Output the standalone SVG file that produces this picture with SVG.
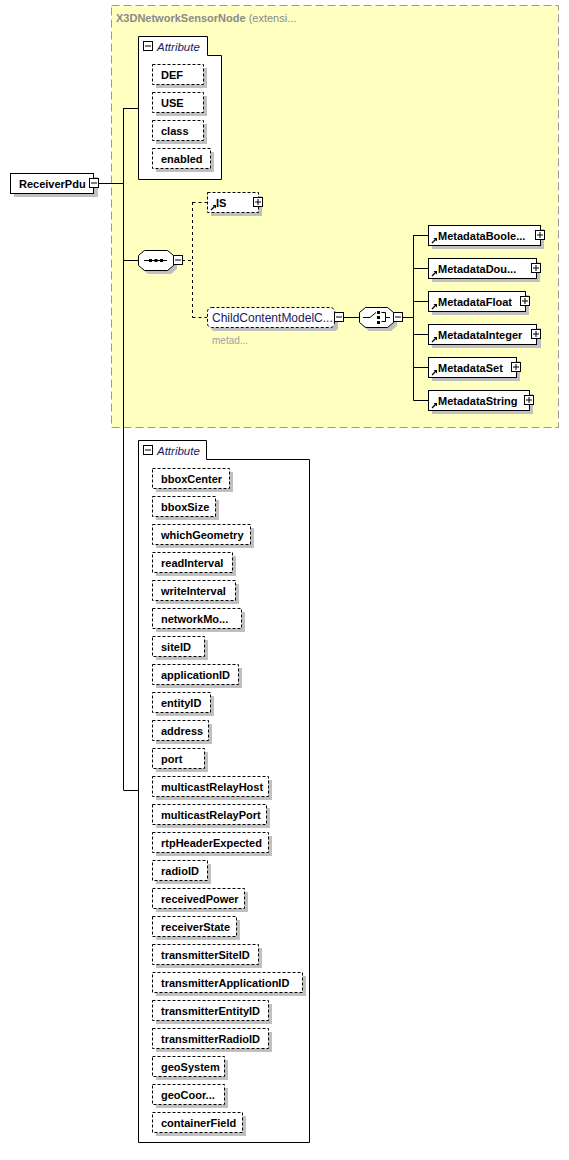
<svg xmlns="http://www.w3.org/2000/svg" xmlns:xlink="http://www.w3.org/1999/xlink" width="569" height="1160" viewBox="0 0 569 1160">
<style>
.lbl{font-family:"Liberation Sans",Arial,sans-serif;font-weight:bold;font-size:11px;fill:#000}
.reg{font-family:"Liberation Sans",Arial,sans-serif;font-size:12px;fill:#1a1a60}
.ital{font-family:"Liberation Sans",Arial,sans-serif;font-style:italic;font-size:11.5px;fill:#1a1a60}
.ttl{font-family:"Liberation Sans",Arial,sans-serif;font-size:11px;fill:#8a8a8a}
.box{fill:#fff;stroke:#000;stroke-width:1}
.dbox{fill:#fff;stroke:#000;stroke-width:1;stroke-dasharray:3,2}
.shd{fill:#c0c0c0}
.con{stroke:#000;stroke-width:1;fill:none}
.dcon{stroke:#000;stroke-width:1;fill:none;stroke-dasharray:3,3}
</style>
<defs>
<g id="minus"><rect x="0.5" y="0.5" width="9" height="9" fill="#fff" stroke="#000"/><line x1="2" y1="5" x2="8" y2="5" stroke="#000"/></g>
<g id="plus"><rect x="0.5" y="0.5" width="9" height="9" fill="#fff" stroke="#000"/><line x1="2" y1="5" x2="8" y2="5" stroke="#000"/><line x1="5" y1="2" x2="5" y2="8" stroke="#000"/></g>
<g id="ref"><line x1="1" y1="6" x2="4.5" y2="2.5" stroke="#000" stroke-width="1.3"/><polygon points="2.5,1 6,1 6,4.5" fill="#000"/></g>
</defs>

<g id="X3DNetworkSensorNode">
<rect x="111.5" y="5.5" width="447" height="422" fill="#ffffc0" stroke="#999" stroke-dasharray="8,4"/>
<text x="116" y="22" class="ttl"><tspan font-weight="bold">X3DNetworkSensorNode</tspan> (extensi...</text>
</g>

<g id="connectors">
<path class="con" d="M98,183.5 H123.5 M123.5,108 V790 M123.5,108.5 H138 M123.5,260.5 H138 M123.5,790.5 H138"/>
<path class="dcon" d="M182,260.5 H192.5 M192.5,202 V317.5 M192.5,202.5 H207 M192.5,317.5 H207"/>
<path class="con" d="M344,317.5 H359 M403,317.5 H413.5 M413.5,235 V400.5 M413.5,235.5 H428 M413.5,268.5 H428 M413.5,301.5 H428 M413.5,334.5 H428 M413.5,367.5 H428 M413.5,400.5 H428"/>
</g>

<g id="ReceiverPdu">
<rect x="14" y="177" width="84" height="20" class="shd"/>
<rect x="10.5" y="173.5" width="83" height="20" class="box"/>
<text x="19" y="188" class="lbl">ReceiverPdu</text>
<use xlink:href="#minus" x="89" y="178"/>
</g>

<g id="Attribute1">
<path class="box" d="M138.5,36.5 H207.5 V55.5 H221.5 V179.5 H138.5 Z"/>
<use xlink:href="#minus" x="143" y="41"/>
<text x="157" y="51" class="ital">Attribute</text>
<g id="DEF"><rect x="156" y="68" width="51" height="20" class="shd"/><rect x="152.5" y="64.5" width="51" height="20" class="dbox"/><text x="161" y="78.5" class="lbl">DEF</text></g>
<g id="USE"><rect x="156" y="96" width="51" height="20" class="shd"/><rect x="152.5" y="92.5" width="51" height="20" class="dbox"/><text x="161" y="106.5" class="lbl">USE</text></g>
<g id="class"><rect x="156" y="124" width="51" height="20" class="shd"/><rect x="152.5" y="120.5" width="51" height="20" class="dbox"/><text x="161" y="134.5" class="lbl">class</text></g>
<g id="enabled"><rect x="156" y="152" width="58" height="20" class="shd"/><rect x="152.5" y="148.5" width="58" height="20" class="dbox"/><text x="161" y="162.5" class="lbl">enabled</text></g>
</g>

<g id="sequence">
<path class="shd" d="M148,254 H171 L177,259 V269 L171,274 H148 L142,269 V259 Z"/>
<path class="box" d="M144.5,250.5 H167.5 L173.5,255.5 V265.5 L167.5,270.5 H144.5 L138.5,265.5 V255.5 Z"/>
<line x1="144" y1="260.5" x2="167" y2="260.5" stroke="#000"/>
<rect x="149" y="259" width="3" height="3" fill="#000"/><rect x="154.5" y="259" width="3" height="3" fill="#000"/><rect x="160" y="259" width="3" height="3" fill="#000"/>
<use xlink:href="#minus" x="173" y="255"/>
</g>

<g id="IS">
<rect x="211" y="196" width="51" height="20" class="shd"/>
<rect x="207.5" y="192.5" width="51" height="20" class="dbox"/>
<use xlink:href="#ref" x="210" y="204"/>
<text x="216" y="207" class="lbl">IS</text>
<use xlink:href="#plus" x="253" y="197"/>
</g>

<g id="ChildContentModelCore">
<rect x="211" y="311" width="127" height="20" rx="4" class="shd"/>
<rect x="207.5" y="307.5" width="127" height="20" rx="4" class="dbox"/>
<text x="212" y="322" class="reg">ChildContentModelC...</text>
<use xlink:href="#minus" x="334" y="312"/>
<text x="212" y="344" font-family="Liberation Sans,Arial,sans-serif" font-size="10" fill="#a0a0a0">metad...</text>
</g>

<g id="choice">
<path class="shd" d="M369,311 H391 L397,316 V326 L391,331 H369 L363,326 V316 Z"/>
<path class="box" d="M365.5,307.5 H387.5 L393.5,312.5 V322.5 L387.5,327.5 H365.5 L359.5,322.5 V312.5 Z"/>
<path d="M363,317.5 H370 L376,312.5 M381.5,312.5 H385.5 V321.5 H381.5 M385.5,317.5 H390" stroke="#000" fill="none"/>
<rect x="377" y="311" width="3" height="3" fill="#000"/><rect x="377" y="316" width="3" height="3" fill="#000"/><rect x="377" y="321" width="3" height="3" fill="#000"/>
<use xlink:href="#minus" x="393" y="312"/>
</g>

<g id="MetadataBoolean"><rect x="432" y="229" width="112" height="20" class="shd"/><rect x="428.5" y="225.5" width="112" height="20" class="box"/><use xlink:href="#ref" x="431" y="237"/><text x="438" y="240" class="lbl">MetadataBoole...</text><use xlink:href="#plus" x="535" y="230"/></g>
<g id="MetadataDouble"><rect x="432" y="262" width="108" height="20" class="shd"/><rect x="428.5" y="258.5" width="108" height="20" class="box"/><use xlink:href="#ref" x="431" y="270"/><text x="438" y="273" class="lbl">MetadataDou...</text><use xlink:href="#plus" x="531" y="263"/></g>
<g id="MetadataFloat"><rect x="432" y="295" width="97" height="20" class="shd"/><rect x="428.5" y="291.5" width="97" height="20" class="box"/><use xlink:href="#ref" x="431" y="303"/><text x="438" y="306" class="lbl">MetadataFloat</text><use xlink:href="#plus" x="520" y="296"/></g>
<g id="MetadataInteger"><rect x="432" y="328" width="109" height="20" class="shd"/><rect x="428.5" y="324.5" width="108" height="20" class="box"/><use xlink:href="#ref" x="431" y="336"/><text x="438" y="339" class="lbl">MetadataInteger</text><use xlink:href="#plus" x="531" y="329"/></g>
<g id="MetadataSet"><rect x="432" y="361" width="88" height="20" class="shd"/><rect x="428.5" y="357.5" width="88" height="20" class="box"/><use xlink:href="#ref" x="431" y="369"/><text x="438" y="372" class="lbl">MetadataSet</text><use xlink:href="#plus" x="511" y="362"/></g>
<g id="MetadataString"><rect x="432" y="394" width="101" height="20" class="shd"/><rect x="428.5" y="390.5" width="101" height="20" class="box"/><use xlink:href="#ref" x="431" y="402"/><text x="438" y="405" class="lbl">MetadataString</text><use xlink:href="#plus" x="524" y="395"/></g>

<g id="Attribute2">
<path class="box" d="M138.5,440.5 H206.5 V459.5 H309.5 V1142.5 H138.5 Z"/>
<use xlink:href="#minus" x="143" y="445"/>
<text x="157" y="455" class="ital">Attribute</text>
<g id="bboxCenter"><rect x="156" y="472" width="77" height="20" class="shd"/><rect x="152.5" y="468.5" width="77" height="20" class="dbox"/><text x="161" y="482.5" class="lbl">bboxCenter</text></g>
<g id="bboxSize"><rect x="156" y="500" width="63" height="20" class="shd"/><rect x="152.5" y="496.5" width="63" height="20" class="dbox"/><text x="161" y="510.5" class="lbl">bboxSize</text></g>
<g id="whichGeometry"><rect x="156" y="528" width="98" height="20" class="shd"/><rect x="152.5" y="524.5" width="98" height="20" class="dbox"/><text x="161" y="538.5" class="lbl">whichGeometry</text></g>
<g id="readInterval"><rect x="156" y="556" width="80" height="20" class="shd"/><rect x="152.5" y="552.5" width="80" height="20" class="dbox"/><text x="161" y="566.5" class="lbl">readInterval</text></g>
<g id="writeInterval"><rect x="156" y="584" width="83" height="20" class="shd"/><rect x="152.5" y="580.5" width="83" height="20" class="dbox"/><text x="161" y="594.5" class="lbl">writeInterval</text></g>
<g id="networkMode"><rect x="156" y="612" width="89" height="20" class="shd"/><rect x="152.5" y="608.5" width="89" height="20" class="dbox"/><text x="161" y="622.5" class="lbl">networkMo...</text></g>
<g id="siteID"><rect x="156" y="640" width="52" height="20" class="shd"/><rect x="152.5" y="636.5" width="52" height="20" class="dbox"/><text x="161" y="650.5" class="lbl">siteID</text></g>
<g id="applicationID"><rect x="156" y="668" width="86" height="20" class="shd"/><rect x="152.5" y="664.5" width="86" height="20" class="dbox"/><text x="161" y="678.5" class="lbl">applicationID</text></g>
<g id="entityID"><rect x="156" y="696" width="58" height="20" class="shd"/><rect x="152.5" y="692.5" width="58" height="20" class="dbox"/><text x="161" y="706.5" class="lbl">entityID</text></g>
<g id="address"><rect x="156" y="724" width="56" height="20" class="shd"/><rect x="152.5" y="720.5" width="56" height="20" class="dbox"/><text x="161" y="734.5" class="lbl">address</text></g>
<g id="port"><rect x="156" y="752" width="52" height="20" class="shd"/><rect x="152.5" y="748.5" width="52" height="20" class="dbox"/><text x="161" y="762.5" class="lbl">port</text></g>
<g id="multicastRelayHost"><rect x="156" y="780" width="116" height="20" class="shd"/><rect x="152.5" y="776.5" width="116" height="20" class="dbox"/><text x="161" y="790.5" class="lbl">multicastRelayHost</text></g>
<g id="multicastRelayPort"><rect x="156" y="808" width="114" height="20" class="shd"/><rect x="152.5" y="804.5" width="114" height="20" class="dbox"/><text x="161" y="818.5" class="lbl">multicastRelayPort</text></g>
<g id="rtpHeaderExpected"><rect x="156" y="836" width="116" height="20" class="shd"/><rect x="152.5" y="832.5" width="116" height="20" class="dbox"/><text x="161" y="846.5" class="lbl">rtpHeaderExpected</text></g>
<g id="radioID"><rect x="156" y="864" width="55" height="20" class="shd"/><rect x="152.5" y="860.5" width="55" height="20" class="dbox"/><text x="161" y="874.5" class="lbl">radioID</text></g>
<g id="receivedPower"><rect x="156" y="892" width="92" height="20" class="shd"/><rect x="152.5" y="888.5" width="92" height="20" class="dbox"/><text x="161" y="902.5" class="lbl">receivedPower</text></g>
<g id="receiverState"><rect x="156" y="920" width="84" height="20" class="shd"/><rect x="152.5" y="916.5" width="84" height="20" class="dbox"/><text x="161" y="930.5" class="lbl">receiverState</text></g>
<g id="transmitterSiteID"><rect x="156" y="948" width="106" height="20" class="shd"/><rect x="152.5" y="944.5" width="106" height="20" class="dbox"/><text x="161" y="958.5" class="lbl">transmitterSiteID</text></g>
<g id="transmitterApplicationID"><rect x="156" y="976" width="150" height="20" class="shd"/><rect x="152.5" y="972.5" width="150" height="20" class="dbox"/><text x="161" y="986.5" class="lbl">transmitterApplicationID</text></g>
<g id="transmitterEntityID"><rect x="156" y="1004" width="116" height="20" class="shd"/><rect x="152.5" y="1000.5" width="116" height="20" class="dbox"/><text x="161" y="1014.5" class="lbl">transmitterEntityID</text></g>
<g id="transmitterRadioID"><rect x="156" y="1032" width="116" height="20" class="shd"/><rect x="152.5" y="1028.5" width="116" height="20" class="dbox"/><text x="161" y="1042.5" class="lbl">transmitterRadioID</text></g>
<g id="geoSystem"><rect x="156" y="1060" width="72" height="20" class="shd"/><rect x="152.5" y="1056.5" width="72" height="20" class="dbox"/><text x="161" y="1070.5" class="lbl">geoSystem</text></g>
<g id="geoCoords"><rect x="156" y="1088" width="72" height="20" class="shd"/><rect x="152.5" y="1084.5" width="72" height="20" class="dbox"/><text x="161" y="1098.5" class="lbl">geoCoor...</text></g>
<g id="containerField"><rect x="156" y="1116" width="90" height="20" class="shd"/><rect x="152.5" y="1112.5" width="90" height="20" class="dbox"/><text x="161" y="1126.5" class="lbl">containerField</text></g>
</g>
</svg>
